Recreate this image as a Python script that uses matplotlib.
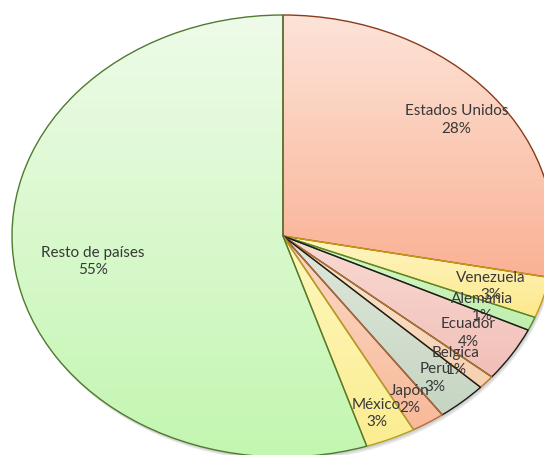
import numpy as np
import matplotlib.pyplot as plt
from matplotlib.colors import to_rgb
from matplotlib.patches import Ellipse

# Share of each country (%)
paises = ['Estados Unidos', 'Venezuela', 'Alemania', 'Ecuador', 'Belgica',
          'Perú', 'Japón', 'México', 'Resto de países']
valores = [28, 3, 1, 4, 1, 3, 2, 3, 55]

# gradient colours per slice (top, bottom) and outline colour
tonos_claros = ['#fde4d8', '#fff5c4', '#d9f6cd', '#f9dad4', '#fbe7d5',
                '#dfe8dc', '#fcdac8', '#fef7bf', '#eefbe9']
tonos_oscuros = ['#fab194', '#fce98c', '#c0eeae', '#f1bfb7', '#f5d0b0',
                 '#c6d5c2', '#f8b998', '#fbed90', '#c3f6b0']
bordes = ['#8c3a1c', '#c99a10', '#4f8a2c', '#1a1a1a', '#b8742c',
          '#1a1a1a', '#b86a3c', '#b5a020', '#4f7a30']
dist_etiqueta = [0.83, 0.80, 0.80, 0.81, 0.85, 0.85, 0.87, 0.87, 0.71]

plt.rcParams['font.family'] = ['Lato', 'DejaVu Sans']

fig = plt.figure(figsize=(5.44, 4.56), dpi=100)
# the pie is stretched a bit wider than tall and runs past the figure edges
ax = fig.add_axes([0.02206, -0.00439, 0.99632, 0.96930])

# soft drop shadow under the pie
for k, a in enumerate([0.10, 0.10, 0.12]):
    ax.add_patch(Ellipse((0.004 + k * 0.002, -0.008 - k * 0.005), 2.0, 2.0,
                         facecolor='#606060', edgecolor='none', alpha=a, zorder=0))

wedges, _ = ax.pie(valores, startangle=90, counterclock=False, radius=1,
                   wedgeprops=dict(linewidth=1.0))

for w, c1, c2, ec in zip(wedges, tonos_claros, tonos_oscuros, bordes):
    verts = w.get_path().vertices
    x0, x1 = verts[:, 0].min(), verts[:, 0].max()
    y0, y1 = verts[:, 1].min(), verts[:, 1].max()
    t = np.linspace(0, 1, 256)[:, None]
    grad = (1 - t) * np.array(to_rgb(c2)) + t * np.array(to_rgb(c1))
    im = ax.imshow(grad[:, None, :], extent=[x0, x1, y0, y1], origin='lower',
                   aspect='auto', interpolation='bilinear', zorder=1)
    im.set_clip_path(w)
    w.set_facecolor('none')
    w.set_edgecolor(ec)
    w.set_zorder(2)

# centred two-line labels inside each slice
total = sum(valores)
ang = 90.0
for nombre, v, r in zip(paises, valores, dist_etiqueta):
    medio = np.deg2rad(ang - 360.0 * v / total / 2)
    ang -= 360.0 * v / total
    ax.text(r * np.cos(medio), r * np.sin(medio), f'{nombre}\n{v}%',
            ha='center', va='center', fontsize=11, color='#383838',
            linespacing=1.3, zorder=3)

ax.set_aspect('auto')
ax.set_xlim(-1, 1)
ax.set_ylim(-1, 1)
ax.axis('off')

fig.savefig('out.png', dpi=100)
